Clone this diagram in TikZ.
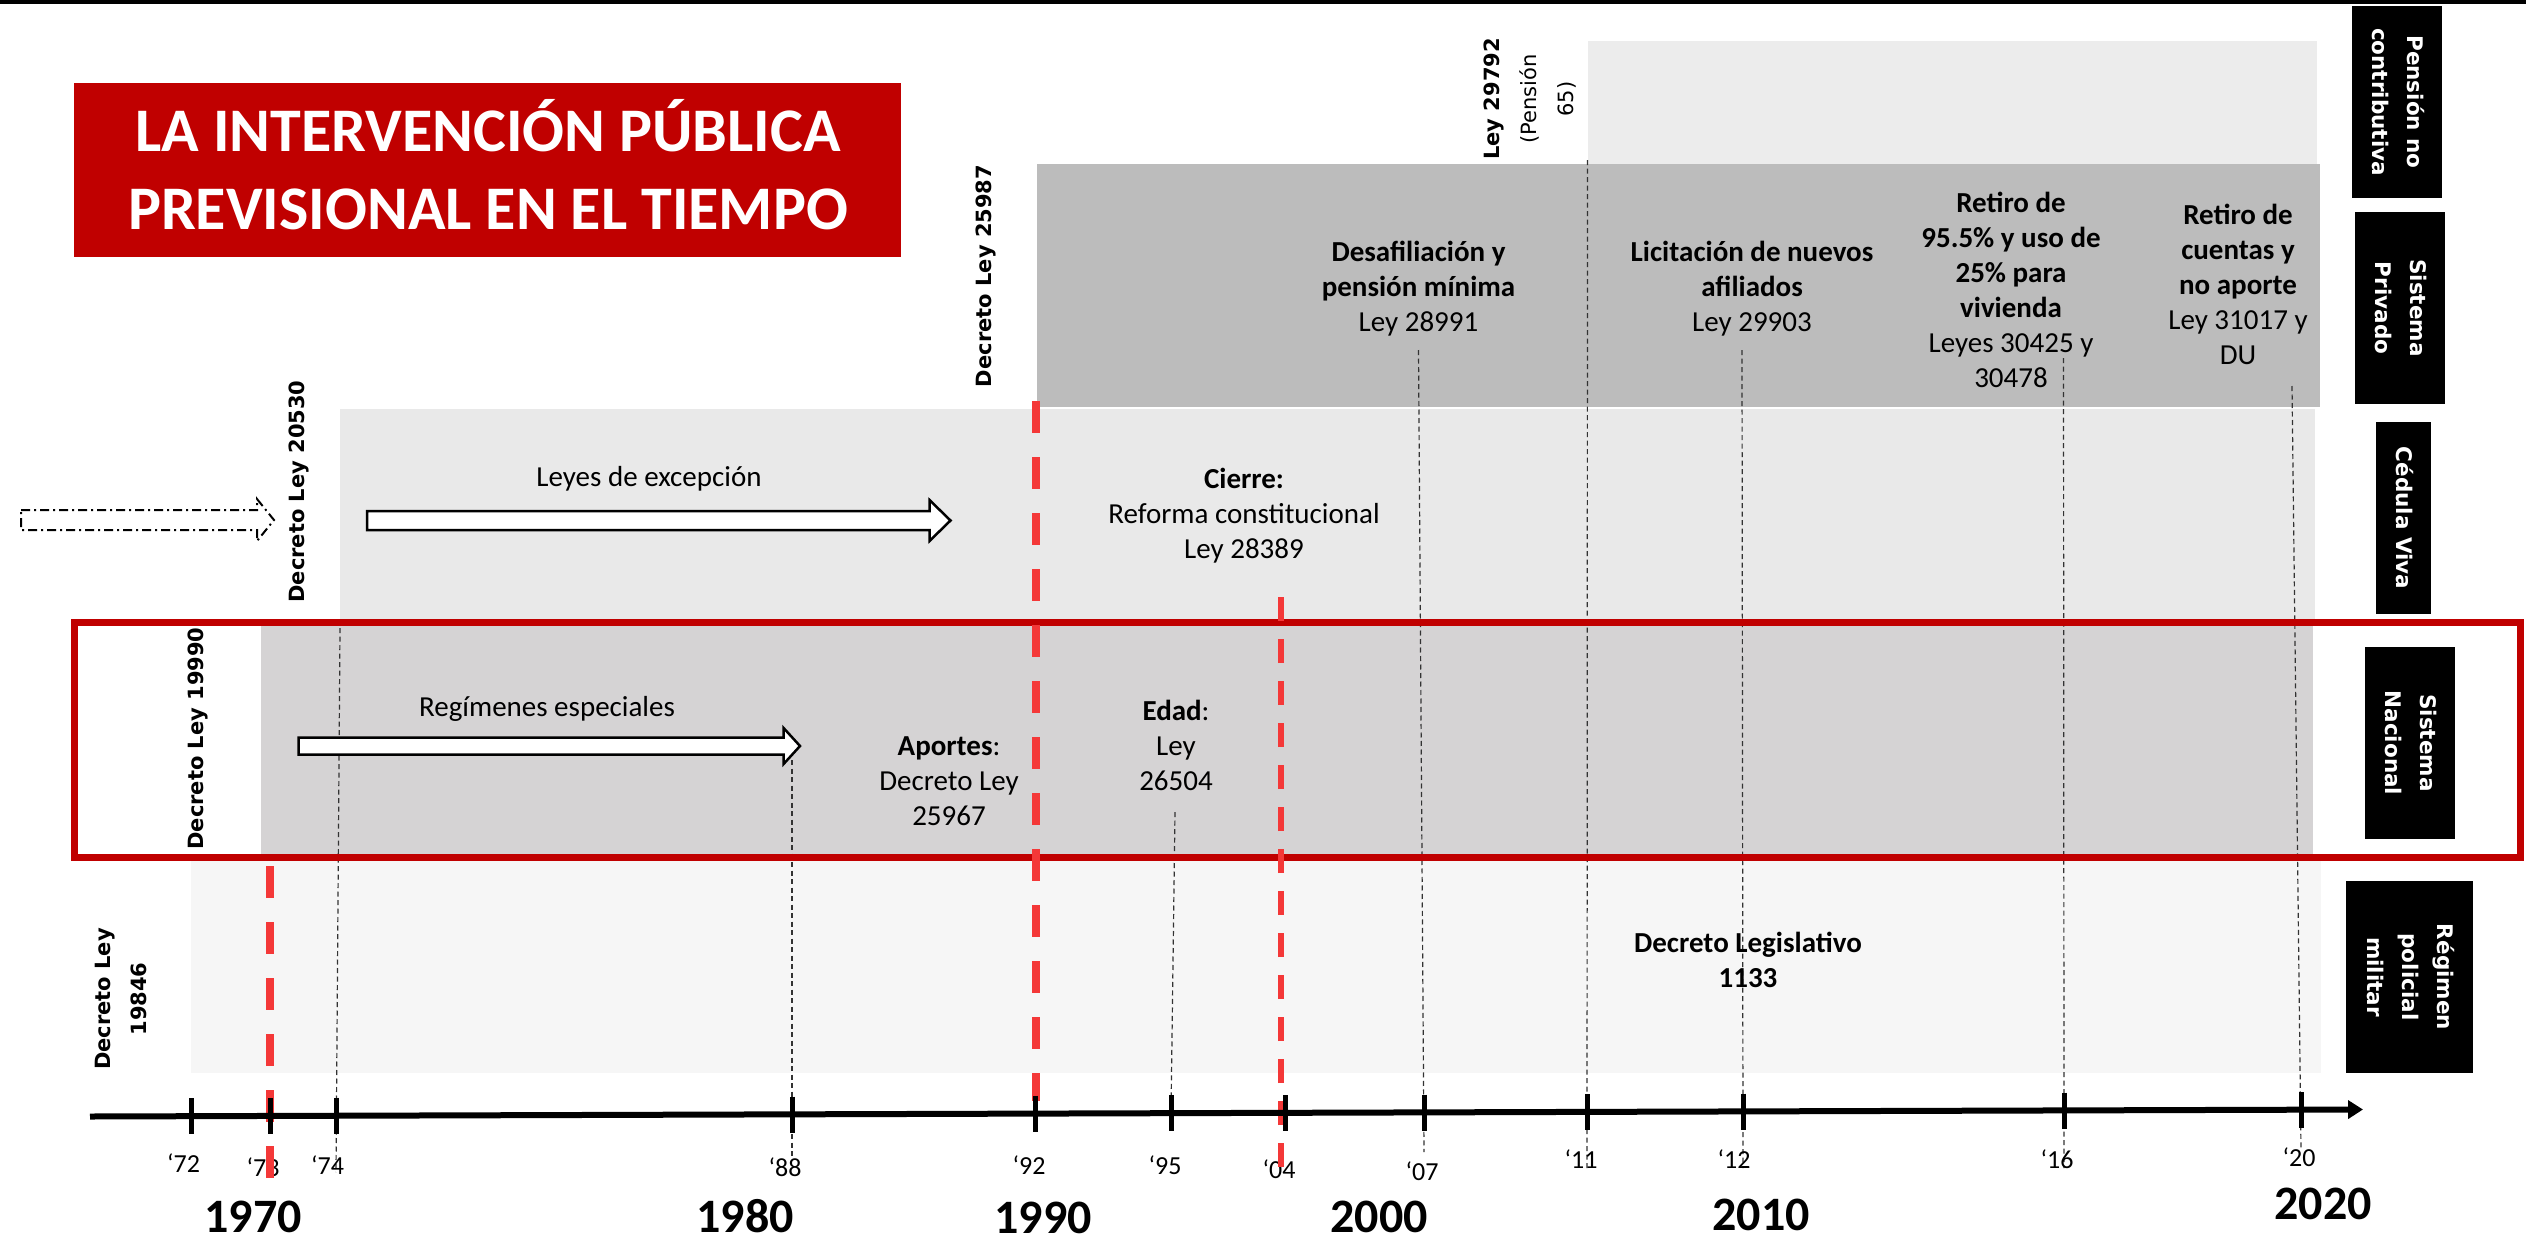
\documentclass[tikz,border=0pt]{standalone}
\usepackage{fontspec}
\setmainfont{Carlito}
\newfontfamily\dejavu{DejaVu Sans}
\usetikzlibrary{arrows.meta}
\definecolor{titlered}{RGB}{192,0,0}
\definecolor{dashred}{RGB}{244,56,56}
\definecolor{pnc}{RGB}{236,236,236}
\definecolor{priv}{RGB}{188,188,188}
\definecolor{ced}{RGB}{233,233,233}
\definecolor{nac}{RGB}{213,211,212}
\definecolor{mil}{RGB}{246,246,246}
\newcommand\fsz[2]{\fontsize{#1}{#2}\selectfont}
\begin{document}
\begin{tikzpicture}[x=1pt,y=-1pt,
  txt/.style={align=center,inner sep=0pt,font=\fsz{29}{35}},
  tlab/.style={inner sep=0pt,font=\fsz{26}{30}},
  decade/.style={inner sep=0pt,font=\fsz{48}{56}\bfseries},
  rotlab/.style={rotate=90,inner sep=0pt,align=center,font=\dejavu\bfseries\fsz{21}{36}},
  sidebox/.style={fill=black,text=white,rotate=-90,inner sep=0pt,align=center,font=\dejavu\bfseries\fsz{21.5}{35}},
  conn/.style={draw=black!80,line width=1.2pt,dash pattern=on 5pt off 3.5pt},
  reddash/.style={draw=dashred,line width=8pt,dash pattern=on 32pt off 24pt},
  blockarrow/.style={draw=black,line width=2.5pt,fill=white,line join=miter},
  tickmark/.style={draw=black,line width=5pt}]

\useasboundingbox (0,0) rectangle (2526,1247);
\fill[white] (0,0) rectangle (2526,1247);
\fill[black] (0,0) rectangle (2526,4);

% bands
\fill[pnc] (1587.5,41) rectangle (2317,300);
\fill[priv] (1037,164) rectangle (2320,407);
\fill[ced] (340,409) rectangle (2315,622);
\fill[nac] (261,622) rectangle (2313,857);
\fill[mil] (191,857) rectangle (2321,1073);

% title
\fill[titlered] (74,83) rectangle (901,257);
\node[align=center,inner sep=0pt,text=white,font=\fsz{62}{78}\bfseries] (title) at (488,175)
  {\strut LA INTERVENCIÓN PÚBLICA\\\strut PREVISIONAL EN EL TIEMPO};

% side labels
\node[sidebox,minimum width=192.5pt,minimum height=90pt] (spnc) at (2397,102) {\strut Pensión no\\\strut contributiva};
\node[sidebox,minimum width=192.5pt,minimum height=90pt] (spriv) at (2400,308) {\strut Sistema\\\strut Privado};
\node[sidebox,minimum width=192pt,minimum height=55pt] (sced) at (2403.5,518) {\strut Cédula Viva};
\node[sidebox,minimum width=191.5pt,minimum height=90pt] (snac) at (2410,743) {\strut Sistema\\\strut Nacional};
\node[sidebox,minimum width=191.5pt,minimum height=127pt] (smil) at (2409.5,977) {\strut Régimen\\\strut policial\\\strut militar};

% coordinates
\coordinate (ax0) at (90,1116.5);
\coordinate (ax1) at (2363,1109.5);
\coordinate (t72) at (191.5,1116);
\coordinate (t73) at (270,1116);
\coordinate (t74) at (336,1115.5);
\coordinate (t88) at (792,1114.5);
\coordinate (t92) at (1035,1113.5);
\coordinate (t95) at (1171,1113);
\coordinate (t04) at (1285,1113);
\coordinate (t07) at (1424,1112.5);
\coordinate (t11) at (1587,1112);
\coordinate (t12) at (1743,1111.5);
\coordinate (t16) at (2064,1110.5);
\coordinate (t20) at (2301,1110);

\coordinate (c74a) at (340,628);   \coordinate (c74b) at (336,1172);
\coordinate (c88a) at (792,760);   \coordinate (c88b) at (792,1158);
\coordinate (c95a) at (1175,812);
\coordinate (c07a) at (1418.5,350); \coordinate (c07b) at (1424,1152);
\coordinate (c11a) at (1587.5,160); \coordinate (c11b) at (1587,1168);
\coordinate (c12a) at (1742,350);  \coordinate (c12b) at (1743,1168);
\coordinate (c16a) at (2063.5,358); \coordinate (c16b) at (2064,1168);
\coordinate (c20a) at (2292,386);  \coordinate (c20b) at (2301,1150);

% dashed connectors
\draw[conn] (c74a) -- (c74b);
\draw[conn] (c88a) -- (c88b);
\draw[conn] (c95a) -- (t95);
\draw[conn] (c07a) -- (c07b);
\draw[conn] (c11a) -- (c11b);
\draw[conn] (c12a) -- (c12b);
\draw[conn] (c16a) -- (c16b);
\draw[conn] (c20a) -- (c20b);

% texts
\node[txt] (desaf) at (1418.5,289) {\strut\textbf{Desafiliación y}\\\strut\textbf{pensión mínima}\\\strut Ley 28991};
\node[txt] (licit) at (1752,289) {\strut\textbf{Licitación de nuevos}\\\strut\textbf{afiliados}\\\strut Ley 29903};
\node[txt] (ret1) at (2011,293) {\strut\textbf{Retiro de}\\\strut\textbf{95.5\% y uso de}\\\strut\textbf{25\% para}\\\strut\textbf{vivienda}\\\strut Leyes 30425 y\\\strut 30478};
\node[txt] (ret2) at (2238,287) {\strut\textbf{Retiro de}\\\strut\textbf{cuentas y}\\\strut\textbf{no aporte}\\\strut Ley 31017 y\\\strut DU};
\node[txt] (cierre) at (1244,516) {\strut\textbf{Cierre:}\\\strut Reforma constitucional\\\strut Ley 28389};
\node[txt] (aportes) at (949,783) {\strut\textbf{Aportes}:\\\strut Decreto Ley\\\strut 25967};
\node[txt] (edad) at (1176,748.5) {\strut\textbf{Edad}:\\\strut Ley\\\strut 26504};
\node[txt] (dleg) at (1748,963) {\strut\textbf{Decreto Legislativo}\\\strut\textbf{1133}};
\node[txt] (leyes) at (649,479) {Leyes de excepción};
\node[txt] (regim) at (547,709) {Regímenes especiales};

% rotated labels
\node[rotlab] (d25987) at (985.5,276) {Decreto Ley 25987};
\node[rotlab] (d20530) at (298.5,491.5) {Decreto Ley 20530};
\node[rotlab] (d19990) at (197.5,738.5) {Decreto Ley 19990};
\node[rotlab] (d19846) at (121,999) {\strut Decreto Ley\\\strut 19846};
\node[rotlab,font=\dejavu\fsz{21}{37}] (l29792) at (1529,99) {\strut\textbf{Ley 29792}\\\strut(Pensión\\\strut 65)};

% block arrows
\draw[line width=2pt,dash pattern=on 9pt off 4pt on 2pt off 4pt,line join=miter]
  (21,510) -- (257,510) -- (257,499) -- (274,520) -- (257,541) -- (257,530) -- (21,530) -- cycle;
\draw[blockarrow] (367,511) -- (929.5,511) -- (929.5,500) -- (950.5,520.5) -- (929.5,541) -- (929.5,530) -- (367,530) -- cycle;
\draw[blockarrow] (298.5,737.5) -- (783.6,737.5) -- (783.6,728) -- (800,746) -- (783.6,764) -- (783.6,754.7) -- (298.5,754.7) -- cycle;

% red frame
\draw[draw=titlered,line width=7pt] (74.5,622.5) rectangle (2520,857.5);

% tick labels
\node[tlab] (l72) at (183.5,1163) {‘72};
\node[tlab] (l73) at (263,1167) {‘73};
\node[tlab] (l74) at (327.5,1165) {‘74};
\node[tlab] (l88) at (785,1167) {‘88};
\node[tlab] (l92) at (1029,1165) {‘92};
\node[tlab] (l95) at (1165,1165) {‘95};
\node[tlab] (l04) at (1279,1169) {‘04};
\node[tlab] (l07) at (1422,1171) {‘07};
\node[tlab] (l11) at (1581,1159) {‘11};
\node[tlab] (l12) at (1734,1159) {‘12};
\node[tlab] (l16) at (2057,1159) {‘16};
\node[tlab] (l20) at (2299,1157) {‘20};

\node[decade] (y1970) at (253,1217) {1970};
\node[decade] (y1980) at (745,1216) {1980};
\node[decade] (y1990) at (1043,1218) {1990};
\node[decade] (y2000) at (1379,1217) {2000};
\node[decade] (y2010) at (1761,1215) {2010};
\node[decade] (y2020) at (2323,1204) {2020};

% red dashed lines
\coordinate (r73a) at (270,866);  \coordinate (r73b) at (270,1178);
\coordinate (r92a) at (1036,401); \coordinate (r92b) at (1036,1101);
\coordinate (r04a) at (1281,590); \coordinate (r04b) at (1281,1167);
\draw[reddash] (r73a) -- (r73b);
\draw[reddash] (r92a) -- (r92b);
\draw[reddash,line width=6pt,dash pattern=on 24pt off 18pt] (r04b) -- (r04a);

% axis
\draw[line width=6pt,-{Triangle[length=15pt,width=18pt]}] (ax0) -- (ax1);
\foreach \t in {t72,t73,t74,t88,t92,t95,t04,t07,t11,t12,t16,t20}
  \draw[tickmark] (\t) ++(0,-18) -- ++(0,36);
\end{tikzpicture}
\end{document}
